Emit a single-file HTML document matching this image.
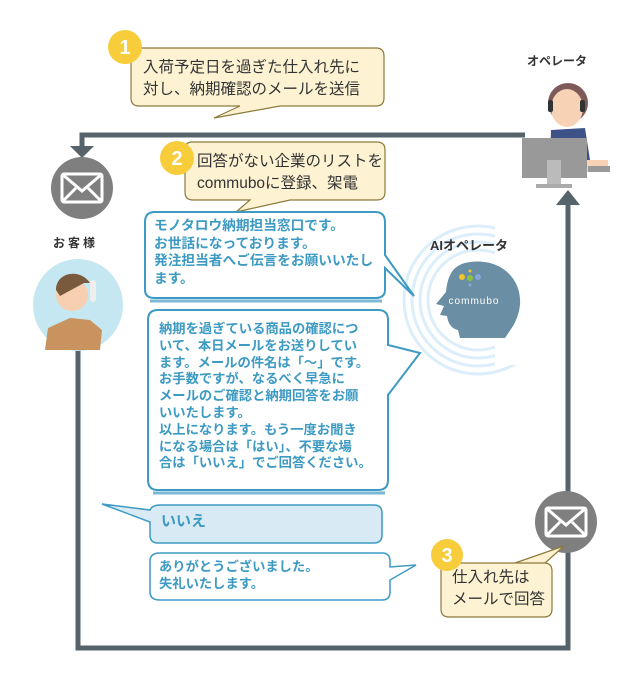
<!DOCTYPE html>
<html><head><meta charset="utf-8"><style>
body{margin:0;width:640px;height:676px;background:#fff;overflow:hidden;position:relative;font-family:"Liberation Sans","Noto Sans CJK JP",sans-serif}
.t{position:absolute;white-space:nowrap}
.y{color:#333;font-size:15.5px;line-height:22px}
.b{color:#3d9ac3;font-size:13.3px;font-weight:bold;line-height:16.8px}
</style></head><body>
<svg width="640" height="676" style="position:absolute;left:0;top:0">
<g stroke="#56636b" stroke-width="5" fill="none">
<polyline points="525,135 82,135 82,148"/>
<polyline points="78,350 78,648 568,648 568,203"/>
</g>
<polygon points="70,146 94,146 82,158" fill="#56636b"/>
<polygon points="556,205 580,205 568,190" fill="#56636b"/>
<g fill="none" stroke="#dbeef9" stroke-width="3">
<circle cx="478" cy="300" r="50"/><circle cx="478" cy="300" r="58"/><circle cx="478" cy="300" r="66"/><circle cx="478" cy="300" r="74"/>
</g>
<rect x="495" y="225" width="60" height="140" fill="#fff"/>
<path d="M470,262 C500,258 522,278 520,305 C518,322 510,330 505,338 L460,338 L458,330 C450,328 448,322 447,316 L440,315 L444,306 L436,304 L446,292 C448,272 455,264 470,262Z" fill="#6a8ea3"/>
<text x="474" y="304" font-size="10" fill="#fff" text-anchor="middle" font-family="Liberation Sans,sans-serif" letter-spacing="1">commubo</text>
<circle cx="462" cy="277" r="3" fill="#f2c530"/><circle cx="470" cy="278" r="3" fill="#8bc53f"/><circle cx="478" cy="277" r="3" fill="#88a6d8"/><circle cx="470" cy="271" r="1.5" fill="#f2c530"/><circle cx="470" cy="285" r="1.5" fill="#88a6d8"/>
<circle cx="82" cy="188" r="31" fill="#7f7f7f"/>
<g fill="none" stroke="#fff" stroke-width="3"><rect x="62" y="174" width="40" height="28" rx="2"/><polyline points="62,174 82,191 102,174"/><line x1="62" y1="202" x2="76" y2="188"/><line x1="102" y1="202" x2="88" y2="188"/></g>
<circle cx="566" cy="522" r="31" fill="#7f7f7f"/>
<g fill="none" stroke="#fff" stroke-width="3"><rect x="546" y="508" width="40" height="28" rx="2"/><polyline points="546,508 566,525 586,508"/><line x1="546" y1="536" x2="560" y2="522"/><line x1="586" y1="536" x2="572" y2="522"/></g>
<ellipse cx="78" cy="305" rx="45" ry="46" fill="#c5e7f1"/>
<path d="M45,350 L48,328 L70,318 L90,320 L102,330 L100,350 Z" fill="#c8935e"/>
<circle cx="72" cy="295" r="16" fill="#f6d0b0"/>
<path d="M56,290 C56,272 80,268 90,283 L84,283 L60,296Z" fill="#7a5a3c"/>
<rect x="90" y="280" width="6" height="22" rx="3" fill="#eee"/>
<circle cx="568" cy="103" r="20" fill="#7e5b5a"/>
<ellipse cx="567" cy="108" rx="16" ry="19" fill="#f7d2b5"/>
<rect x="548" y="100" width="5" height="12" rx="2" fill="#333"/><rect x="580" y="100" width="5" height="12" rx="2" fill="#333"/>
<path d="M551,130 L585,128 L590,160 L550,160Z" fill="#3e5288"/>
<path d="M587,160 L608,160 L608,172 L587,172Z" fill="#f7d2b5"/>
<rect x="588" y="166" width="22" height="6" fill="#999"/>
<rect x="522" y="138" width="65" height="40" fill="#999"/>
<rect x="547" y="160" width="14" height="24" fill="#bbb"/>
<rect x="536" y="184" width="36" height="4" fill="#aaa"/>
<g fill="#fdf3d3" stroke="#8c7a3a" stroke-width="1.2">
<path d="M138,48 H376 Q384,48 384,56 V98 Q384,106 376,106 H280 L214,118 L240,106 H139 Q131,106 131,98 V56 Q131,48 138,48Z"/>
<path d="M192,142 H377 Q385,142 385,150 V192 Q385,200 377,200 H290 L236,212 L250,200 H193 Q185,200 185,192 V150 Q185,142 192,142Z"/>
<path d="M448,563 H544 Q552,563 552,571 V609 Q552,617 544,617 H449 Q441,617 441,609 V571 Q441,563 448,563 H515 L564,546 L545,563Z"/>
</g>
<g fill="#f7cd3b"><circle cx="125" cy="47" r="17"/><circle cx="177" cy="158" r="17"/><circle cx="447" cy="555" r="16"/></g>
<g fill="#fff" font-weight="bold" font-size="20" text-anchor="middle" font-family="Liberation Sans,sans-serif"><text x="125" y="54">1</text><text x="177" y="165">2</text><text x="447" y="562">3</text></g>
<g fill="#fff" stroke="#3d9ac3" stroke-width="2">
<path d="M155,212 H375 Q385,212 385,222 V255 L414,296 L385,268 V290 Q385,298 375,298 H155 Q145,298 145,290 V222 Q145,212 155,212Z"/>
<path d="M158,310 H378 Q388,310 388,320 V345 L420,353 L388,395 V480 Q388,490 378,490 H158 Q148,490 148,480 V320 Q148,310 158,310Z"/>
<path d="M160,553 H382 Q390,553 390,561 V567 L416,565 L390,580 V592 Q390,600 382,600 H160 Q150,600 150,592 V561 Q150,553 160,553Z" stroke-width="1.5"/>
</g>
<g stroke="#7bb8d6" stroke-width="3" fill="none"><line x1="150" y1="301" x2="382" y2="301"/><line x1="153" y1="493" x2="385" y2="493"/></g>
<path d="M160,505 H374 Q382,505 382,513 V535 Q382,543 374,543 H158 Q150,543 150,535 V522 L102,504 L150,510 Q152,505 160,505Z" fill="#d8eaf4" stroke="#3d9ac3" stroke-width="1.5"/>
</svg>
<div class="t y" style="left:143px;top:57px">入荷予定日を過ぎた仕入れ先に<br>対し、納期確認のメールを送信</div>
<div class="t y" style="left:197px;top:151px">回答がない企業のリストを<br>commuboに登録、架電</div>
<div class="t y" style="left:452px;top:567px">仕入れ先は<br>メールで回答</div>
<div class="t" style="left:527px;top:52px;font-size:12px;font-weight:bold;color:#333">オペレータ</div>
<div class="t" style="left:53px;top:234px;font-size:12px;font-weight:bold;color:#333;letter-spacing:3px">お客様</div>
<div class="t" style="left:430px;top:235px;font-size:13px;font-weight:bold;color:#333">AIオペレータ</div>
<div class="t b" style="left:154px;top:217px;font-size:13.7px;line-height:17.5px">モノタロウ納期担当窓口です。<br>お世話になっております。<br>発注担当者へご伝言をお願いいたし<br>ます。</div>
<div class="t b" style="left:159px;top:321px">納期を過ぎている商品の確認につ<br>いて、本日メールをお送りしてい<br>ます。メールの件名は「～」です。<br>お手数ですが、なるべく早急に<br>メールのご確認と納期回答をお願<br>いいたします。<br>以上になります。もう一度お聞き<br>になる場合は「はい」、不要な場<br>合は「いいえ」でご回答ください。</div>
<div class="t b" style="left:161px;top:514px;font-size:15px">いいえ</div>
<div class="t b" style="left:159px;top:559px">ありがとうございました。<br>失礼いたします。</div>
</body></html>
